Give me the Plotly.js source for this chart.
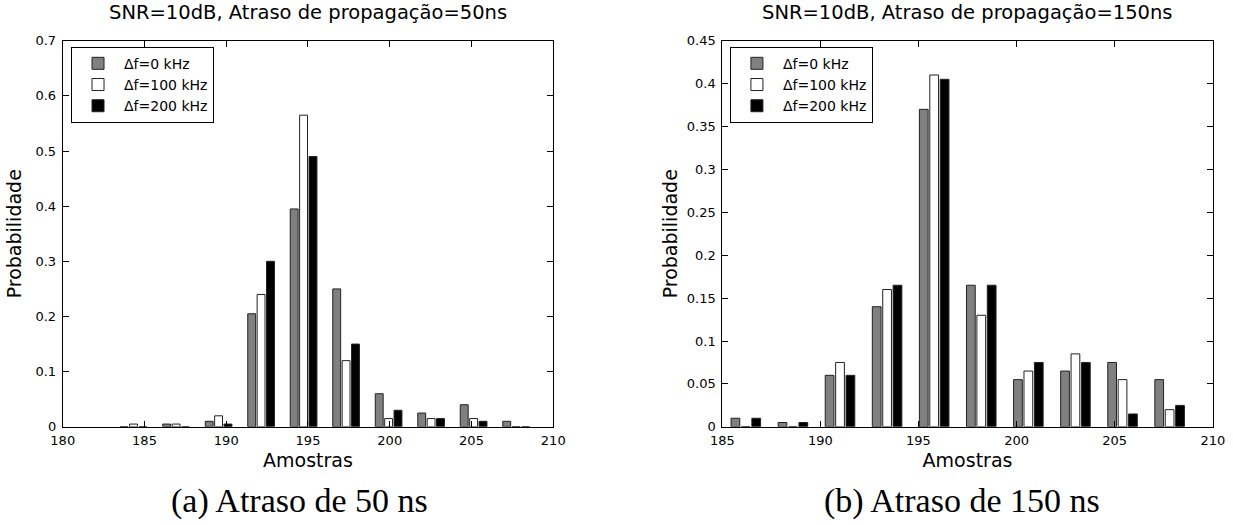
<!DOCTYPE html>
<html>
<head>
<meta charset="utf-8">
<script src="https://cdn.plot.ly/plotly-3.0.1.min.js"></script>
<style>
html,body{margin:0;padding:0;background:#fff;}
#chart{width:1233px;height:525px;}
</style>
</head>
<body>
<div id="chart"></div>
<script>
// ---- data: delay 50 ns ----
const bins50 = [184.33, 186.93, 189.53, 192.13, 194.73, 197.33, 199.93, 202.53, 205.13, 207.73];
const prob50_df0   = [0, 0.005, 0.01, 0.205, 0.395, 0.25, 0.06, 0.025, 0.04, 0.01];
const prob50_df100 = [0.005, 0.005, 0.02, 0.24, 0.565, 0.12, 0.015, 0.015, 0.015, 0];
const prob50_df200 = [0, 0, 0.005, 0.30, 0.49, 0.15, 0.03, 0.015, 0.01, 0];

// ---- data: delay 150 ns ----
const bins150 = [186.2, 188.6, 191.0, 193.4, 195.8, 198.2, 200.6, 203.0, 205.4, 207.8];
const prob150_df0   = [0.01, 0.005, 0.06, 0.14, 0.37, 0.165, 0.055, 0.065, 0.075, 0.055];
const prob150_df100 = [0, 0, 0.075, 0.16, 0.41, 0.13, 0.065, 0.085, 0.055, 0.02];
const prob150_df200 = [0.01, 0.005, 0.06, 0.165, 0.405, 0.165, 0.075, 0.075, 0.015, 0.025];

const seriesNames = ['\u0394f=0 kHz', '\u0394f=100 kHz', '\u0394f=200 kHz'];
const seriesColors = ['#808080', '#ffffff', '#000000'];

const titles = ['SNR=10dB, Atraso de propaga\u00e7\u00e3o=50ns', 'SNR=10dB, Atraso de propaga\u00e7\u00e3o=150ns'];
const captions = ['(a) Atraso de 50 ns', '(b) Atraso de 150 ns'];

const edge = {color: '#222222', width: 1};

function mk(x, y, i, xa, ya, lg) {
  return {type: 'bar', x: x, y: y, name: seriesNames[i], xaxis: xa, yaxis: ya, legend: lg,
    marker: {color: seriesColors[i], line: edge}, hoverinfo: 'x+y+name'};
}

const data = [
  mk(bins50, prob50_df0, 0, 'x', 'y', 'legend'),
  mk(bins50, prob50_df100, 1, 'x', 'y', 'legend'),
  mk(bins50, prob50_df200, 2, 'x', 'y', 'legend'),
  mk(bins150, prob150_df0, 0, 'x2', 'y2', 'legend2'),
  mk(bins150, prob150_df100, 1, 'x2', 'y2', 'legend2'),
  mk(bins150, prob150_df200, 2, 'x2', 'y2', 'legend2')
];

const axisBase = {
  showline: true, linecolor: '#000', linewidth: 1, mirror: 'ticks',
  ticks: 'inside', ticklen: 6, tickcolor: '#000', tickwidth: 1,
  showgrid: false, zeroline: false, fixedrange: true,
  tickfont: {size: 13, color: '#000'}
};

const legBase = {
  xanchor: 'left', yanchor: 'top', bgcolor: '#fff', bordercolor: '#000', borderwidth: 1,
  font: {size: 14, color: '#000'}, itemwidth: 42, tracegroupgap: 0, traceorder: 'normal'
};

const layout = {
  width: 1233, height: 525,
  margin: {l: 0, r: 0, t: 0, b: 0},
  paper_bgcolor: '#fff', plot_bgcolor: '#fff',
  font: {family: 'DejaVu Sans, Liberation Sans, sans-serif', color: '#000'},
  barmode: 'group', bargap: 0.337, bargroupgap: 0.16,
  showlegend: true,
  xaxis: Object.assign({}, axisBase, {domain: [0.0509, 0.4487], range: [180, 210], dtick: 5, tick0: 180, anchor: 'y',
    ticklabelstandoff: 2, title: {text: 'Amostras', font: {size: 19}, standoff: 6}}),
  yaxis: Object.assign({}, axisBase, {domain: [0.187, 0.9225], range: [0, 0.7], dtick: 0.1, tick0: 0, anchor: 'x',
    ticklabelstandoff: 3, title: {text: 'Probabilidade', font: {size: 19}, standoff: 8}}),
  xaxis2: Object.assign({}, axisBase, {domain: [0.5858, 0.9836], range: [185, 210], dtick: 5, tick0: 185, anchor: 'y2',
    ticklabelstandoff: 2, title: {text: 'Amostras', font: {size: 19}, standoff: 6}}),
  yaxis2: Object.assign({}, axisBase, {domain: [0.187, 0.9225], range: [0, 0.45], dtick: 0.05, tick0: 0, anchor: 'x2',
    ticklabelstandoff: 3, title: {text: 'Probabilidade', font: {size: 19}, standoff: 4}}),
  legend: Object.assign({}, legBase, {x: 0.0576, y: 0.911}),
  legend2: Object.assign({}, legBase, {x: 0.592, y: 0.911}),
  annotations: [
    {text: titles[0], xref: 'paper', yref: 'paper', x: 0.2498, y: 0.977, xanchor: 'center', yanchor: 'middle', showarrow: false, font: {size: 19.5}},
    {text: titles[1], xref: 'paper', yref: 'paper', x: 0.7847, y: 0.977, xanchor: 'center', yanchor: 'middle', showarrow: false, font: {size: 19.5}},
    {text: captions[0], xref: 'paper', yref: 'paper', x: 0.2425, y: 0.046, xanchor: 'center', yanchor: 'middle', showarrow: false, font: {size: 34, family: 'Liberation Serif, serif'}},
    {text: captions[1], xref: 'paper', yref: 'paper', x: 0.7805, y: 0.046, xanchor: 'center', yanchor: 'middle', showarrow: false, font: {size: 34, family: 'Liberation Serif, serif'}}
  ]
};

Plotly.newPlot('chart', data, layout, {displayModeBar: false, staticPlot: false});
</script>
</body>
</html>
